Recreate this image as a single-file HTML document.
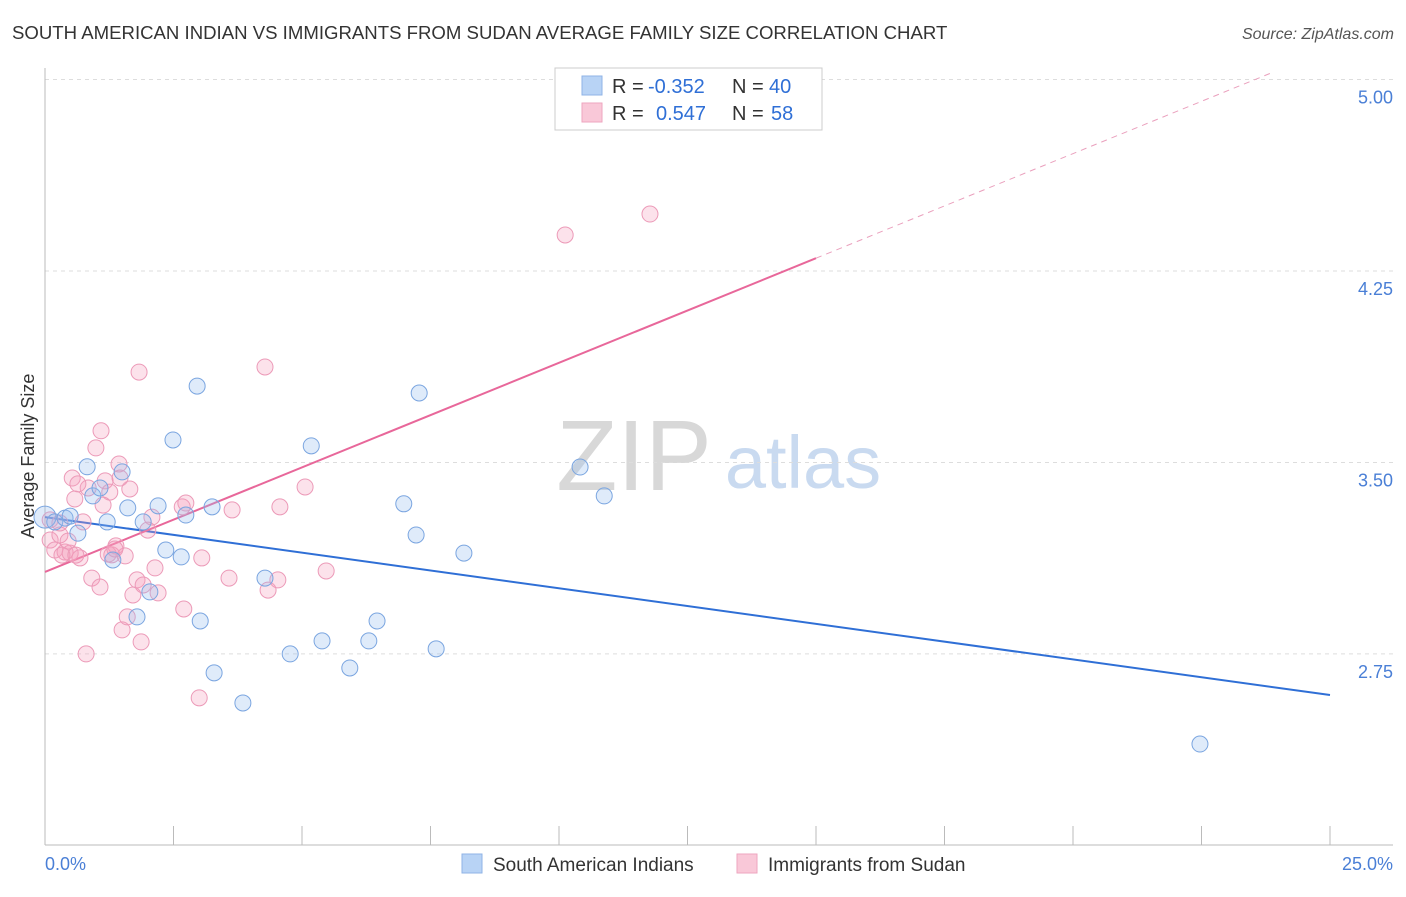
<!DOCTYPE html>
<html><head><meta charset="utf-8"><style>
body{margin:0;background:#fff;font-family:"Liberation Sans",sans-serif;}
svg text{font-family:"Liberation Sans",sans-serif;}
</style></head><body>
<svg id="c" width="1406" height="892" xmlns="http://www.w3.org/2000/svg">
<text x="12" y="39" font-size="18.6" fill="#333">SOUTH AMERICAN INDIAN VS IMMIGRANTS FROM SUDAN AVERAGE FAMILY SIZE CORRELATION CHART</text>
<text x="1394" y="39" font-size="16" fill="#555" font-style="italic" text-anchor="end">Source: ZipAtlas.com</text>
<text x="634" y="490" font-size="100" fill="#d8d8d8" font-family="Liberation Serif,serif" text-anchor="middle">ZIP</text>
<text x="803" y="488" font-size="74" fill="#c9daf0" text-anchor="middle">atlas</text>
<text transform="translate(34,456) rotate(-90)" font-size="18" fill="#333" text-anchor="middle">Average Family Size</text>
<g id="grid"></g><g id="axes"></g><g id="lines"></g><g id="pts"></g>
<text x="45" y="870" font-size="18" fill="#4a7fd6">0.0%</text>
<text x="1393" y="870" font-size="18" fill="#4a7fd6" text-anchor="end">25.0%</text>
<g>
<rect x="555" y="68" width="267" height="62" fill="#fff" stroke="#ccc"/>
<rect x="582" y="76" width="20" height="19" fill="#b8d3f5" stroke="#8fb3e6"/>
<rect x="582" y="103" width="20" height="19" fill="#f9c8d8" stroke="#eea6bf"/>
<text x="612" y="93" font-size="20" fill="#333">R =</text>
<text x="648" y="93" font-size="20" fill="#2f6fd6">-0.352</text>
<text x="732" y="93" font-size="20" fill="#333">N =</text>
<text x="769" y="93" font-size="20" fill="#2f6fd6">40</text>
<text x="612" y="120" font-size="20" fill="#333">R =</text>
<text x="656" y="120" font-size="20" fill="#2f6fd6">0.547</text>
<text x="732" y="120" font-size="20" fill="#333">N =</text>
<text x="771" y="120" font-size="20" fill="#2f6fd6">58</text>
</g>
<g>
<rect x="462" y="854" width="20" height="19" fill="#b8d3f5" stroke="#8fb3e6"/>
<text x="493" y="871" font-size="19" fill="#333">South American Indians</text>
<rect x="737" y="854" width="20" height="19" fill="#f9c8d8" stroke="#eea6bf"/>
<text x="768" y="871" font-size="19" fill="#333">Immigrants from Sudan</text>
</g>
</svg>
<script>
const yTicks=[5.00,4.25,3.50,2.75];
const yTickLabels=["5.00","4.25","3.50","2.75"];
const xTicks=[0,2.5,5,7.5,10,12.5,15,17.5,20,22.5,25];
const blueX=[0,0.19,0.39,0.49,0.64,0.82,0.93,1.07,1.21,1.32,1.50,1.61,1.79,1.91,2.04,2.20,2.35,2.49,2.65,2.74,2.96,3.02,3.25,3.29,3.85,4.28,4.77,5.18,5.39,5.93,6.30,6.46,6.98,7.22,7.28,7.61,8.15,10.41,10.88,22.47];
const blueY=[3.286,3.267,3.282,3.290,3.223,3.483,3.369,3.400,3.267,3.118,3.463,3.322,2.895,3.267,2.993,3.330,3.157,3.588,3.130,3.294,3.799,2.879,3.326,2.676,2.558,3.047,2.750,3.565,2.801,2.695,2.801,2.879,3.338,3.216,3.772,2.770,3.145,3.482,3.369,2.397];
const pinkX=[0.10,0.19,0.29,0.39,0.49,0.58,0.68,0.74,0.80,0.84,0.91,0.99,1.07,1.09,1.17,1.26,1.30,1.38,1.44,1.50,1.56,1.60,1.65,1.71,1.79,1.83,1.87,1.91,2.00,2.08,2.14,2.20,2.67,2.70,2.74,3.00,3.05,3.58,3.64,4.28,4.34,4.53,4.57,5.06,5.47,10.12,11.77,0.10,0.29,0.45,0.53,0.64,1.23,1.36,1.46,0.33,0.60,1.13];
const pinkY=[3.196,3.157,3.216,3.149,3.145,3.357,3.126,3.267,2.750,3.400,3.047,3.557,3.012,3.624,3.428,3.384,3.138,3.173,3.494,2.844,3.134,2.895,3.396,2.981,3.040,3.854,2.797,3.020,3.235,3.286,3.087,2.989,3.326,2.926,3.341,2.578,3.126,3.047,3.314,3.874,3.000,3.040,3.326,3.404,3.075,4.391,4.473,3.275,3.263,3.192,3.439,3.416,3.141,3.161,3.439,3.137,3.137,3.333];
const blueTrend=[3.286,2.589];
const pinkTrend=[3.071,4.30,15];
const NS="http://www.w3.org/2000/svg";
const X=v=>45+v*(1285/25);
const Y=v=>79.5+(5-v)*255.3;
function mk(tag,attrs,parent){const e=document.createElementNS(NS,tag);for(const k in attrs)e.setAttribute(k,attrs[k]);document.getElementById(parent).appendChild(e);return e;}
yTicks.forEach((t,i)=>{
 const g=mk('line',{x1:45,x2:1393,y1:Y(t),y2:Y(t),stroke:'#ddd','stroke-dasharray':'4,4'},'grid');
 
 
 const l=mk('text',{x:1393,y:Y(t)+24,'font-size':18,fill:'#4a7fd6','text-anchor':'end'},'grid');
 l.textContent=yTickLabels[i];
 
 
});
const ax=mk('line',{x1:45,x2:45,y1:68,y2:845,stroke:'#bbb'},'axes');


const bx=mk('line',{x1:45,x2:1393,y1:845,y2:845,stroke:'#bbb'},'axes');


xTicks.forEach(t=>{
 const k=mk('line',{x1:X(t),x2:X(t),y1:826,y2:845,stroke:'#bbb'},'axes');
 
 
});
const b=mk('line',{x1:X(0),y1:Y(blueTrend[0]),x2:X(25),y2:Y(blueTrend[1]),stroke:'#2f6fd6','stroke-width':2},'lines');


const slope=(pinkTrend[1]-pinkTrend[0])/pinkTrend[2];
const p=mk('line',{x1:X(0),y1:Y(pinkTrend[0]),x2:X(pinkTrend[2]),y2:Y(pinkTrend[1]),stroke:'#e8679a','stroke-width':2},'lines');


const xe=(5.03-pinkTrend[0])/slope;
const pd=mk('line',{x1:X(pinkTrend[2]),y1:Y(pinkTrend[1]),x2:X(xe),y2:Y(5.03),stroke:'#eaa0bd','stroke-width':1,'stroke-dasharray':'6,5'},'lines');


pinkX.forEach((x,i)=>{
 const c=mk('circle',{cx:X(x),cy:Y(pinkY[i]),r:8,fill:'rgba(244,160,190,0.3)',stroke:'#ec9ab8','stroke-width':1},'pts');
 
 
});
blueX.forEach((x,i)=>{
 const c=mk('circle',{cx:X(x),cy:Y(blueY[i]),r:i==0?11:8,fill:'rgba(150,190,240,0.3)',stroke:'#7aa5e0','stroke-width':1},'pts');
 
 
});
</script>
</body></html>
